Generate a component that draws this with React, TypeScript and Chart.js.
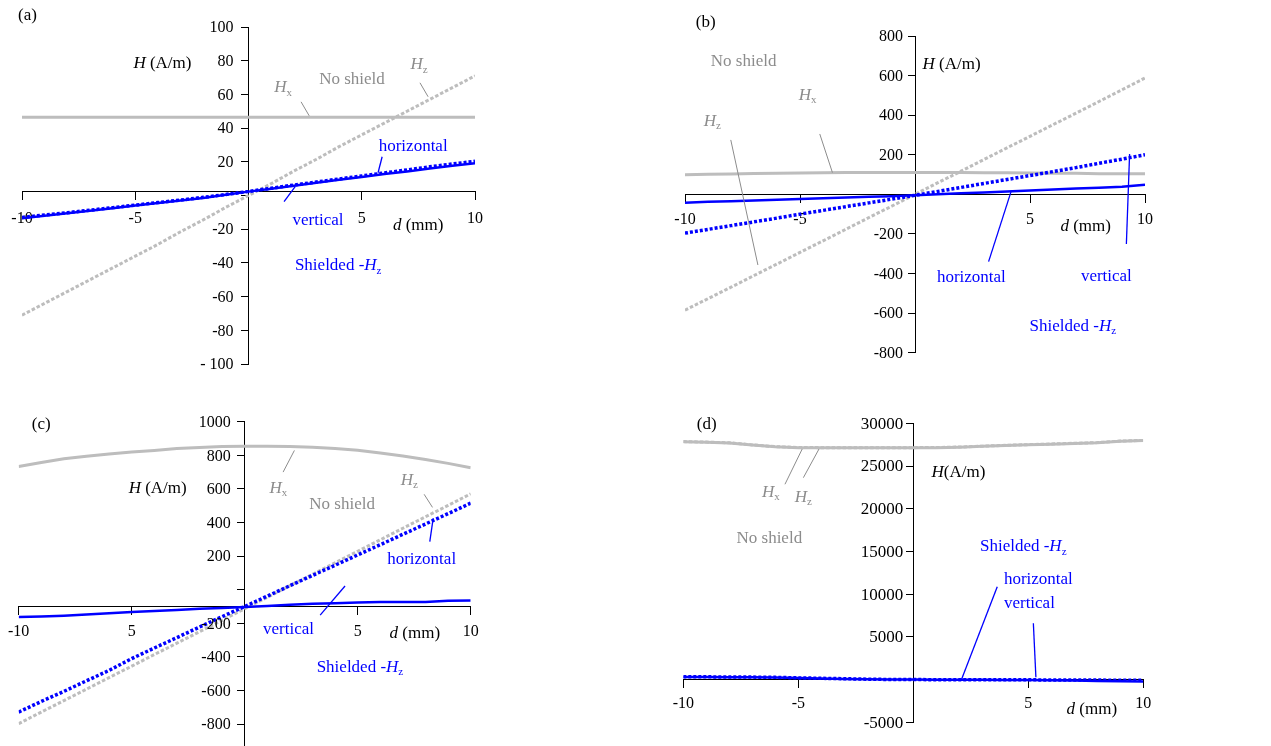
import React, { useEffect, useRef } from 'react';
import { Chart, registerables } from 'chart.js';

Chart.register(...registerables);

const FONT = "'Liberation Serif', 'Times New Roman', serif";
const W = 1271;
const H = 746;

// distance d (mm)
const D = [-10, -9, -8, -7, -6, -5, -4, -3, -2, -1, 0, 1, 2, 3, 4, 5, 6, 7, 8, 9, 10];

// x tick values / labels
const X_TICKS = [-10, -5, 0, 5, 10];
const X_LABELS = ['-10', '-5', '', '5', '10'];
const X_LABELS_C = ['-10', '5', '', '5', '10'];

// ---- panel (a) ----
const aNoShieldHx = [46.5, 46.5, 46.5, 46.5, 46.5, 46.5, 46.5, 46.5, 46.5, 46.5, 46.5, 46.5, 46.5, 46.5, 46.5, 46.5, 46.5, 46.5, 46.5, 46.5, 46.5];
const aNoShieldHz = [-71, -64, -57, -50, -43, -36, -29, -21.5, -14.5, -7, 0, 7, 14.5, 21.5, 29, 36, 43, 50, 57, 64, 71];
const aShieldHorizontal = [-13.5, -12, -10.5, -9, -7.5, -6, -4.5, -3, -1.5, 0.5, 2.3, 4, 5.8, 7.5, 9.3, 11, 12.8, 14.3, 16, 17.6, 19.2];
const aShieldVertical = [-13, -11.6, -10.2, -8.7, -7.2, -5.7, -4.2, -2.7, -1.1, 0.6, 2.4, 4.3, 6.2, 8, 9.8, 11.6, 13.4, 15.2, 17, 18.7, 20.3];
const aYTicks = [-100, -80, -60, -40, -20, 0, 20, 40, 60, 80, 100];
const aYLabels = ['- 100', '-80', '-60', '-40', '-20', '', '20', '40', '60', '80', '100'];

// ---- panel (b) ----
const bNoShieldHx = [99, 101, 103, 105, 107, 108, 109, 110, 111, 111, 111, 110, 110, 109, 109, 108, 107, 106, 104, 104, 104];
const bNoShieldHz = [-585, -527, -469, -410, -352, -293, -235, -176, -117, -59, 0, 59, 117, 176, 235, 293, 352, 410, 469, 528, 588];
const bShieldHorizontal = [-42, -38, -35, -31, -27, -24, -20, -16, -12, -9, -5, 0, 5, 9, 14, 19, 24, 29, 33, 38, 48];
const bShieldVertical = [-196, -177, -158, -139, -120, -100, -81, -62, -43, -24, -5, 15, 35, 55, 75, 95, 115, 135, 157, 178, 200];
const bYTicks = [-800, -600, -400, -200, 0, 200, 400, 600, 800];
const bYLabels = ['-800', '-600', '-400', '-200', '', '200', '400', '600', '800'];

// ---- panel (c) ----
const cNoShieldHx = [733, 757, 780, 795, 808, 819, 829, 840, 847, 852, 854, 854, 852, 848, 840, 830, 814, 796, 775, 752, 726];
const cNoShieldHz = [-797, -728, -660, -592, -523, -455, -386, -318, -250, -182, -113, -45, 24, 92, 160, 229, 297, 366, 434, 502, 571];
const cShieldHorizontal = [-728, -665, -605, -542, -480, -410, -347, -285, -222, -160, -100, -38, 24, 85, 146, 207, 268, 330, 391, 453, 515];
const cShieldVertical = [-163, -160, -155, -148, -140, -133, -127, -120, -113, -108, -103, -97, -90, -84, -80, -76, -73, -73, -73, -66, -64];
const cYTicks = [-800, -600, -400, -200, 0, 200, 400, 600, 800, 1000];
const cYLabels = ['-800', '-600', '-400', '-200', '', '200', '400', '600', '800', '1000'];

// ---- panel (d) ----
const dNoShieldHx = [27830, 27780, 27700, 27450, 27250, 27150, 27130, 27130, 27130, 27130, 27130, 27150, 27200, 27300, 27400, 27480, 27560, 27640, 27720, 27900, 27980];
const dNoShieldHz = [27860, 27800, 27720, 27470, 27270, 27170, 27150, 27150, 27150, 27150, 27150, 27170, 27220, 27320, 27420, 27500, 27580, 27660, 27740, 27920, 28000];
const dShieldHorizontal = [300, 290, 280, 260, 230, 180, 120, 80, 40, 10, 0, -10, -20, -30, -40, -50, -80, -120, -160, -200, -230];
const dShieldVertical = [330, 320, 310, 290, 260, 200, 150, 100, 50, 10, 0, -10, -15, -20, -25, -30, -40, -50, -60, -70, -80];
const dYTicks = [-5000, 0, 5000, 10000, 15000, 20000, 25000, 30000];
const dYLabels = ['-5000', '', '5000', '10000', '15000', '20000', '25000', '30000'];

const GRAY_LINE = '#bdbdbd';
const GRAY_TEXT = '#8c8c8c';
const GRAY_LEAD = '#8c8c8c';
const BLUE = '#0000ff';
const BLACK = '#000000';

type Part = [string, string?];
type Ann =
  | { kind: 'text'; x: number; y: number; parts: Part[]; color: string; align?: 'left' | 'center' | 'right' }
  | { kind: 'line'; x1: number; y1: number; x2: number; y2: number; color: string; width?: number };

const HX: Part[] = [['H', 'i'], ['x', 'sub']];
const HZ: Part[] = [['H', 'i'], ['z', 'sub']];
const SHIELDED: Part[] = [['Shielded -'], ['H', 'i'], ['z', 'sub']];
const DMM: Part[] = [['d', 'i'], [' (mm)']];
const HAM: Part[] = [['H', 'i'], [' (A/m)']];

function t(x: number, y: number, parts: Part[] | string, color: string, align: 'left' | 'center' | 'right' = 'center'): Ann {
  return { kind: 'text', x, y, parts: typeof parts === 'string' ? [[parts]] : parts, color, align };
}
function l(x1: number, y1: number, x2: number, y2: number, color: string, width = 1): Ann {
  return { kind: 'line', x1, y1, x2, y2, color, width };
}

function drawRich(ctx: CanvasRenderingContext2D, px: number, py: number, parts: Part[], color: string, align: string, size: number) {
  const fontFor = (st?: string) =>
    st === 'sub' ? `${Math.round(size * 0.66)}px ${FONT}` : st === 'i' ? `italic ${size}px ${FONT}` : `${size}px ${FONT}`;
  const widths: number[] = [];
  let total = 0;
  for (const [txt, st] of parts) {
    ctx.font = fontFor(st);
    const w = ctx.measureText(txt).width;
    widths.push(w);
    total += w;
  }
  let x = align === 'center' ? px - total / 2 : align === 'right' ? px - total : px;
  const base = py + size * 0.33;
  ctx.fillStyle = color;
  ctx.textAlign = 'left';
  ctx.textBaseline = 'alphabetic';
  parts.forEach(([txt, st], i) => {
    ctx.font = fontFor(st);
    ctx.fillText(txt, x, st === 'sub' ? base + size * 0.2 : base);
    x += widths[i];
  });
}

// y tick labels: drawn beside the library's y axis, at the library's tick positions
const yLabelPlugin = (labels: string[], values: number[], gap: number, size: number) => ({
  id: 'yLabels',
  afterDraw(chart: any) {
    const { ctx } = chart;
    const ys = chart.scales.y;
    const axisX = chart.scales.x.getPixelForValue(0);
    ctx.save();
    ctx.font = `${size}px ${FONT}`;
    ctx.fillStyle = BLACK;
    ctx.textAlign = 'right';
    ctx.textBaseline = 'middle';
    for (const tk of ys.ticks) {
      const i = values.indexOf(tk.value);
      const lab = i >= 0 ? labels[i] : '';
      if (lab) ctx.fillText(lab, axisX - gap, ys.getPixelForValue(tk.value) + 1);
    }
    ctx.restore();
  },
});

const annPlugin = (anns: Ann[]) => ({
  id: 'annotations',
  afterDatasetsDraw(chart: any) {
    const { ctx } = chart;
    const xs = chart.scales.x;
    const ys = chart.scales.y;
    ctx.save();
    for (const a of anns) {
      if (a.kind === 'line') {
        ctx.strokeStyle = a.color;
        ctx.lineWidth = a.width ?? 1;
        ctx.beginPath();
        ctx.moveTo(xs.getPixelForValue(a.x1), ys.getPixelForValue(a.y1));
        ctx.lineTo(xs.getPixelForValue(a.x2), ys.getPixelForValue(a.y2));
        ctx.stroke();
      } else {
        drawRich(ctx, xs.getPixelForValue(a.x), ys.getPixelForValue(a.y), a.parts, a.color, a.align ?? 'center', 17);
      }
    }
    ctx.restore();
  },
});

type Panel = {
  area: [number, number, number, number];
  yMin: number;
  yMax: number;
  xAxisAt: number;
  yTicks: number[];
  yLabels: string[];
  xLabels: string[];
  hx: number[];
  hz: number[];
  horizontal: number[];
  vertical: number[];
  horizontalDotted: boolean;
  xPad: number;
  yGap: number;
  yFont: number;
  anns: Ann[];
};

const panels: Panel[] = [
  {
    area: [22, 27, 475, 364],
    yMin: -100, yMax: 100, xAxisAt: 2.3,
    yTicks: aYTicks, yLabels: aYLabels, xLabels: X_LABELS,
    hx: aNoShieldHx, hz: aNoShieldHz, horizontal: aShieldHorizontal, vertical: aShieldVertical,
    horizontalDotted: false, xPad: 10, yGap: 15, yFont: 16,
    anns: [
      t(-9.76, 107.2, '(a)', BLACK),
      t(-3.8, 78.8, HAM, BLACK),
      t(4.57, 69.3, 'No shield', GRAY_TEXT),
      t(1.53, 64.5, HX, GRAY_TEXT),
      l(2.32, 55.6, 2.68, 47.3, GRAY_LEAD),
      t(7.53, 78.2, HZ, GRAY_TEXT),
      l(7.57, 66.9, 7.93, 58.6, GRAY_LEAD),
      t(7.27, 29.5, 'horizontal', BLUE),
      l(5.9, 23, 5.72, 13.5, BLUE, 1.3),
      t(3.07, -14.4, 'vertical', BLUE),
      l(1.57, -3.7, 2.06, 5.2, BLUE, 1.3),
      t(3.96, -41.1, SHIELDED, BLUE),
      t(7.49, -17.4, DMM, BLACK),
    ],
  },
  {
    area: [685, 36, 1145, 352.7],
    yMin: -800, yMax: 800, xAxisAt: 0,
    yTicks: bYTicks, yLabels: bYLabels, xLabels: X_LABELS,
    hx: bNoShieldHx, hz: bNoShieldHz, horizontal: bShieldHorizontal, vertical: bShieldVertical,
    horizontalDotted: false, xPad: 8, yGap: 12, yFont: 16,
    anns: [
      t(-9.1, 876, '(b)', BLACK),
      t(-7.45, 679, 'No shield', GRAY_TEXT),
      t(-4.67, 507, HX, GRAY_TEXT),
      l(-4.14, 305, -3.59, 110, GRAY_LEAD),
      t(-8.81, 376, HZ, GRAY_TEXT),
      l(-8.01, 275, -6.83, -357, GRAY_LEAD),
      t(1.59, 664, HAM, BLACK),
      t(2.45, -417, 'horizontal', BLUE),
      l(3.2, -340, 4.19, 19, BLUE, 1.3),
      t(8.32, -411, 'vertical', BLUE),
      l(9.19, -251, 9.33, 204, BLUE, 1.3),
      t(6.86, -660, SHIELDED, BLUE),
      t(7.42, -155, DMM, BLACK),
    ],
  },
  {
    area: [17.3, 421.7, 470.7, 746],
    yMin: -930, yMax: 1000, xAxisAt: -100,
    yTicks: cYTicks, yLabels: cYLabels, xLabels: X_LABELS_C,
    hx: cNoShieldHx, hz: cNoShieldHz, horizontal: cShieldHorizontal, vertical: cShieldVertical,
    horizontalDotted: true, xPad: 8, yGap: 14, yFont: 16,
    anns: [
      t(-9.0, 990, '(c)', BLACK),
      t(-3.85, 607, HAM, BLACK),
      t(1.49, 611, HX, GRAY_TEXT),
      l(1.7, 700, 2.2, 829, GRAY_LEAD),
      t(4.31, 514, 'No shield', GRAY_TEXT),
      t(7.28, 657, HZ, GRAY_TEXT),
      l(7.94, 568, 8.31, 490, GRAY_LEAD),
      t(7.83, 187, 'horizontal', BLUE),
      l(8.19, 286, 8.34, 425, BLUE, 1.3),
      t(1.94, -230, 'vertical', BLUE),
      l(3.34, -151, 4.44, 22, BLUE, 1.3),
      t(5.1, -454, SHIELDED, BLUE),
      t(7.53, -252, DMM, BLACK),
    ],
  },
  {
    area: [683.3, 423.3, 1143.3, 722.3],
    yMin: -5000, yMax: 30000, xAxisAt: 0,
    yTicks: dYTicks, yLabels: dYLabels, xLabels: X_LABELS,
    hx: dNoShieldHx, hz: dNoShieldHz, horizontal: dShieldHorizontal, vertical: dShieldVertical,
    horizontalDotted: false, xPad: 7, yGap: 10, yFont: 17,
    anns: [
      t(-8.98, 30000, '(d)', BLACK),
      t(1.96, 24335, [['H', 'i'], ['(A/m)']], BLACK),
      t(-6.19, 22077, HX, GRAY_TEXT),
      l(-5.58, 22860, -4.83, 26993, GRAY_LEAD),
      t(-4.78, 21491, HZ, GRAY_TEXT),
      l(-4.78, 23634, -4.1, 26993, GRAY_LEAD),
      t(-6.26, 16657, 'No shield', GRAY_TEXT),
      t(4.78, 15674, SHIELDED, BLUE),
      t(3.94, 11858, 'horizontal', BLUE, 'left'),
      t(3.94, 9048, 'vertical', BLUE, 'left'),
      l(3.65, 10874, 2.1, 35, BLUE, 1.3),
      l(5.22, 6590, 5.33, 270, BLUE, 1.3),
      t(7.76, -3360, DMM, BLACK),
    ],
  },
];

const pts = (arr: number[]) => D.map((d, i) => ({ x: d, y: arr[i] }));

function makeConfig(p: Panel): any {
  const [L, T, R, B] = p.area;
  const solidBlue = { borderColor: BLUE, borderWidth: 2.5, borderDash: [] as number[] };
  const dottedBlue = { borderColor: BLUE, borderWidth: 3.5, borderDash: [3, 2] };
  return {
    type: 'line',
    data: {
      datasets: [
        { label: 'vertical', data: pts(p.vertical), ...(p.horizontalDotted ? solidBlue : dottedBlue) },
        { label: 'horizontal', data: pts(p.horizontal), ...(p.horizontalDotted ? dottedBlue : solidBlue) },
        { label: 'Hz', data: pts(p.hz), borderColor: GRAY_LINE, borderWidth: 3, borderDash: [3.5, 2] },
        { label: 'Hx', data: pts(p.hx), borderColor: GRAY_LINE, borderWidth: 3 },
      ].map((ds) => ({ ...ds, pointRadius: 0, fill: false, tension: 0, borderCapStyle: 'butt' })),
    },
    options: {
      responsive: false,
      maintainAspectRatio: false,
      animation: false,
      events: [],
      layout: { padding: { left: L, top: T, right: W - R, bottom: H - B } },
      plugins: { legend: { display: false }, tooltip: { enabled: false } },
      scales: {
        x: {
          type: 'linear',
          min: -10,
          max: 10,
          position: { y: p.xAxisAt },
          afterBuildTicks: (axis: any) => {
            axis.ticks = X_TICKS.map((v) => ({ value: v }));
          },
          grid: { display: true, drawOnChartArea: false, drawTicks: true, tickLength: 8, color: BLACK, lineWidth: 1 },
          border: { display: true, color: BLACK, width: 1 },
          ticks: {
            autoSkip: false,
            maxRotation: 0,
            padding: p.xPad,
            color: BLACK,
            font: { family: FONT, size: 16 },
            callback: (v: number) => {
              const i = X_TICKS.indexOf(v);
              return i >= 0 ? p.xLabels[i] : '';
            },
          },
        },
        y: {
          type: 'linear',
          min: p.yMin,
          max: p.yMax,
          position: { x: 0 },
          afterBuildTicks: (axis: any) => {
            axis.ticks = p.yTicks.map((v) => ({ value: v }));
          },
          grid: { display: true, drawOnChartArea: false, drawTicks: true, tickLength: 7, color: BLACK, lineWidth: 1 },
          border: { display: true, color: BLACK, width: 1 },
          ticks: { display: false },
        },
      },
    },
    plugins: [yLabelPlugin(p.yLabels, p.yTicks, p.yGap, p.yFont), annPlugin(p.anns)],
  };
}

export default function App() {
  const refs = [useRef<HTMLCanvasElement>(null), useRef<HTMLCanvasElement>(null), useRef<HTMLCanvasElement>(null), useRef<HTMLCanvasElement>(null)];
  useEffect(() => {
    Chart.defaults.font.family = FONT;
    const charts = panels.map((p, i) => new Chart(refs[i].current as HTMLCanvasElement, makeConfig(p)));
    return () => charts.forEach((c) => c.destroy());
  }, []);
  return (
    <div style={{ position: 'absolute', left: 0, top: 0, width: W, height: H, overflow: 'hidden', background: '#fff' }}>
      {refs.map((r, i) => (
        <canvas key={i} ref={r} width={W} height={H} style={{ position: 'absolute', left: 0, top: 0, width: W, height: H }} />
      ))}
    </div>
  );
}
